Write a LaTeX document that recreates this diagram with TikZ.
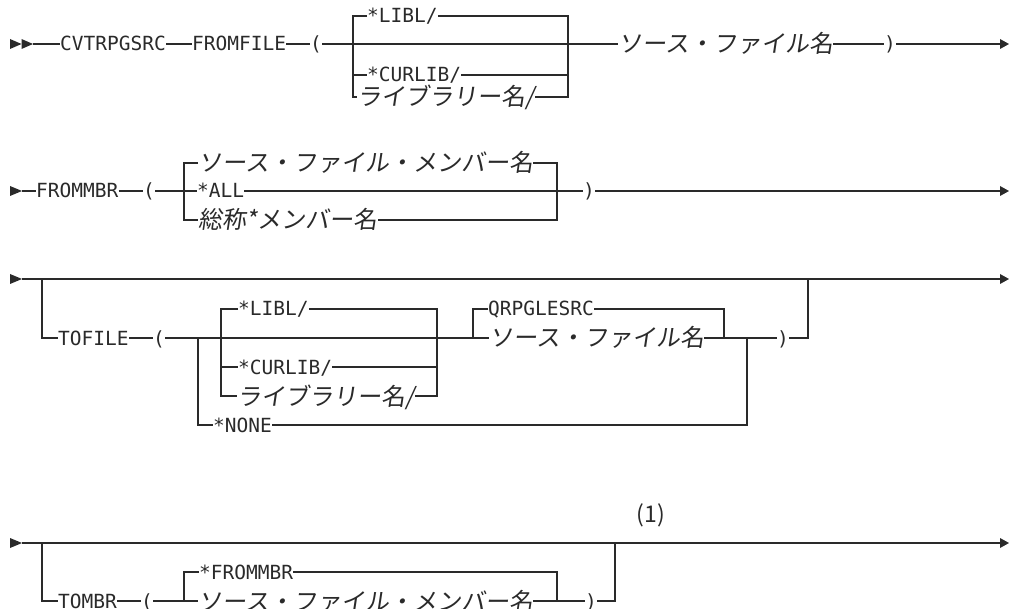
\documentclass[tikz,border=0pt]{standalone}
\usepackage{fontspec}
\newfontfamily\monof{DejaVu Sans Mono}
\newfontfamily\jpf{Noto Sans CJK JP}[FakeSlant=0.15]
\newfontfamily\jpu{Noto Sans CJK JP}
\definecolor{ink}{HTML}{2A2A2A}
\begin{document}
\begin{tikzpicture}[x=1pt,y=-1pt,
  rail/.style={line width=1.2pt, draw=ink},
  mono/.style={font={\monof\fontsize{19.5}{20}\selectfont}, text=ink, inner sep=0pt, text height=14pt, text depth=0pt, anchor=west},
  jpt/.style={font={\jpf\fontsize{24}{26}\selectfont}, text=ink, inner sep=0pt, text height=18pt, text depth=0pt, anchor=west},
  note/.style={font={\jpu\fontsize{23}{25}\selectfont}, text=ink, inner sep=0pt},
  tip/.style={fill=ink, draw=none}]
\useasboundingbox (0,0) rectangle (1009,609);

% ---------------- Row 1 ----------------
\fill[tip] (10,39) -- (21.5,44) -- (10,49) -- cycle;
\fill[tip] (21.5,39) -- (33,44) -- (21.5,49) -- cycle;
\coordinate (s1) at (33,44);
\node[mono] (cvt) at (60,44) {CVTRPGSRC};
\node[mono] (ff) at (192,44) {FROMFILE};
\node[mono] (p1) at (310,44) {(};
\node[mono] (libl) at (367,16) {*LIBL/};
\node[mono] (curlib) at (367,75) {*CURLIB/};
\node[jpt] (lib1) at (357,97) {ライブラリー名/};
\node[jpt] (src1) at (618,44) {ソース・ファイル名};
\node[mono] (p1c) at (884,44) {)};
\coordinate (e1) at (1002,44);
\coordinate (b1tl) at (353,16);
\coordinate (b1bl) at (353,97);
\coordinate (b1tr) at (568,16);
\coordinate (b1br) at (568,97);
\draw[rail] (s1) -- (cvt.west);
\draw[rail] (cvt.east) -- (ff.west);
\draw[rail] (ff.east) -- (p1.west);
\draw[rail] (p1.east) -- (src1.west);
\draw[rail] (src1.east) -- (p1c.west);
\draw[rail] (p1c.east) -- (e1);
\fill[tip] (e1) ++(-2,-5) -- ++(9,5) -- ++(-9,5) -- cycle;
\draw[rail] (libl.west) -- (b1tl) -- (b1bl) -- (lib1.west);
\draw[rail] (b1tl |- curlib.west) -- (curlib.west);
\draw[rail] (libl.east) -- (b1tr) -- (b1br) -- (lib1.east);
\draw[rail] (curlib.east) -- (b1tr |- curlib.east);

% ---------------- Row 2 ----------------
\fill[tip] (10,186) -- (22,191) -- (10,196) -- cycle;
\coordinate (s2) at (22,191);
\node[mono] (fmb) at (36,191) {FROMMBR};
\node[mono] (p2) at (143,191) {(};
\node[jpt] (srcm) at (198,163) {ソース・ファイル・メンバー名};
\node[mono] (all) at (197,191) {*ALL};
\node[jpt] (gen) at (198,220) {総称*メンバー名};
\node[mono] (p2c) at (583,191) {)};
\coordinate (e2) at (1002,191);
\coordinate (b2tl) at (184,163);
\coordinate (b2bl) at (184,220);
\coordinate (b2tr) at (557,163);
\coordinate (b2br) at (557,220);
\draw[rail] (s2) -- (fmb.west);
\draw[rail] (fmb.east) -- (p2.west);
\draw[rail] (p2.east) -- (all.west);
\draw[rail] (all.east) -- (p2c.west);
\draw[rail] (p2c.east) -- (e2);
\fill[tip] (e2) ++(-2,-5) -- ++(9,5) -- ++(-9,5) -- cycle;
\draw[rail] (srcm.west) -- (b2tl) -- (b2bl) -- (gen.west);
\draw[rail] (srcm.east) -- (b2tr) -- (b2br) -- (gen.east);

% ---------------- Row 3 ----------------
\fill[tip] (10,274) -- (22,279) -- (10,284) -- cycle;
\coordinate (s3) at (22,279);
\coordinate (e3) at (1002,279);
\coordinate (j3a) at (42,279);
\coordinate (j3b) at (808,279);
\node[mono] (tofile) at (58,338) {TOFILE};
\node[mono] (p3) at (153,338) {(};
\node[mono] (none) at (213,425) {*NONE};
\node[mono] (libl2) at (238,309) {*LIBL/};
\node[mono] (curlib2) at (238,367) {*CURLIB/};
\node[jpt] (lib2) at (237,396) {ライブラリー名/};
\node[mono] (qrp) at (488,309) {QRPGLESRC};
\node[jpt] (src2) at (489,338) {ソース・ファイル名};
\node[mono] (p3c) at (777,338) {)};
\coordinate (n3l) at (198,338);
\coordinate (n3r) at (747,338);
\coordinate (b3tl) at (221,309);
\coordinate (b3bl) at (221,396);
\coordinate (b3tr) at (437,309);
\coordinate (b3br) at (437,396);
\coordinate (q3l) at (473,309);
\coordinate (q3r) at (724,309);
\draw[rail] (s3) -- (e3);
\fill[tip] (e3) ++(-2,-5) -- ++(9,5) -- ++(-9,5) -- cycle;
\draw[rail] (j3a) |- (tofile.west);
\draw[rail] (tofile.east) -- (p3.west);
\draw[rail] (p3.east) -- (src2.west);
\draw[rail] (n3l) |- (none.west);
\draw[rail] (none.east) -| (n3r);
\draw[rail] (libl2.west) -- (b3tl) -- (b3bl) -- (lib2.west);
\draw[rail] (b3tl |- curlib2.west) -- (curlib2.west);
\draw[rail] (libl2.east) -- (b3tr) -- (b3br) -- (lib2.east);
\draw[rail] (curlib2.east) -- (b3tr |- curlib2.east);
\draw[rail] (qrp.west) -- (q3l) -- (q3l |- src2.west);
\draw[rail] (qrp.east) -- (q3r) -- (q3r |- src2.east);
\draw[rail] (src2.east) -- (p3c.west);
\draw[rail] (p3c.east) -| (j3b);

% ---------------- Row 4 ----------------
\fill[tip] (10,538) -- (22,543) -- (10,548) -- cycle;
\coordinate (s4) at (22,543);
\coordinate (e4) at (1002,543);
\coordinate (j4a) at (42,543);
\coordinate (j4b) at (615,543);
\node[note] (fn) at (651,515) {(1)};
\node[mono] (tombr) at (58,601) {TOMBR};
\node[mono] (p4) at (141,601) {(};
\node[mono] (fmbr) at (199,572) {*FROMMBR};
\node[jpt] (srcm2) at (198,601) {ソース・ファイル・メンバー名};
\node[mono] (p4c) at (585,601) {)};
\coordinate (b4tl) at (184,572);
\coordinate (b4tr) at (557,572);
\draw[rail] (s4) -- (e4);
\fill[tip] (e4) ++(-2,-5) -- ++(9,5) -- ++(-9,5) -- cycle;
\draw[rail] (j4a) |- (tombr.west);
\draw[rail] (tombr.east) -- (p4.west);
\draw[rail] (p4.east) -- (srcm2.west);
\draw[rail] (fmbr.west) -- (b4tl) -- (b4tl |- srcm2.west);
\draw[rail] (fmbr.east) -- (b4tr) -- (b4tr |- srcm2.east);
\draw[rail] (srcm2.east) -- (p4c.west);
\draw[rail] (p4c.east) -| (j4b);
\end{tikzpicture}
\end{document}
